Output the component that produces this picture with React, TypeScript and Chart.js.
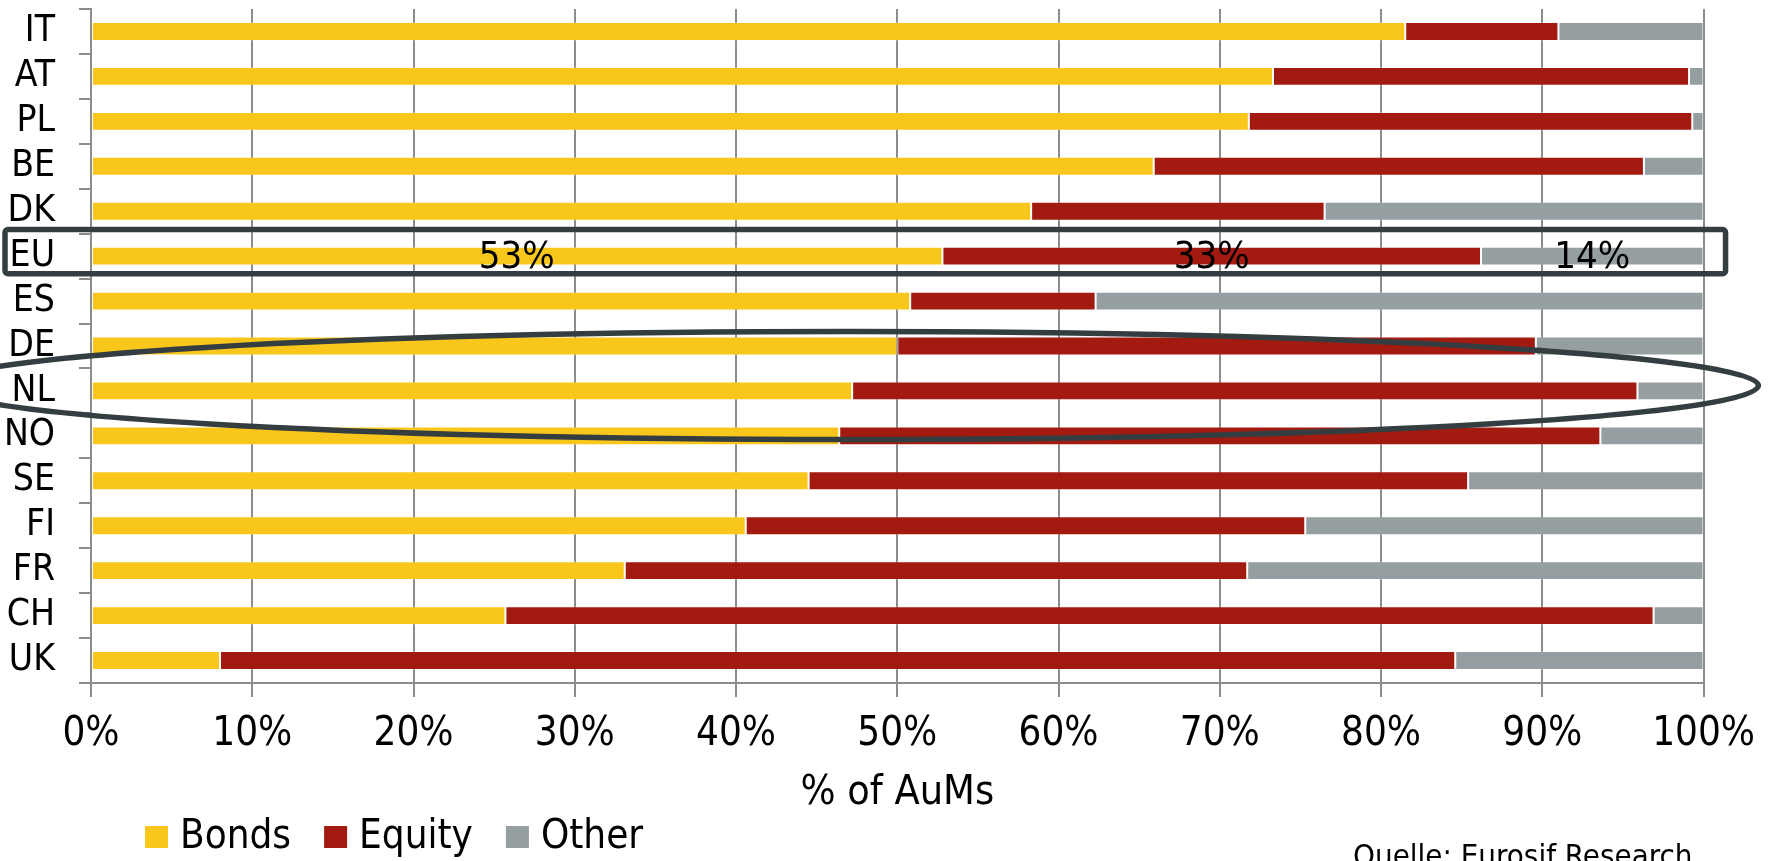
import { useEffect, useRef } from 'react';
import { Chart, registerables } from 'chart.js';

Chart.register(...registerables);

// ---------- data ----------
const categories = ['IT', 'AT', 'PL', 'BE', 'DK', 'EU', 'ES', 'DE', 'NL', 'NO', 'SE', 'FI', 'FR', 'CH', 'UK'];
const bonds = [81.5, 73.3, 71.8, 65.9, 58.3, 52.8, 50.8, 50.0, 47.2, 46.4, 44.5, 40.6, 33.1, 25.7, 8.0];
const equity = [9.5, 25.8, 27.5, 30.4, 18.2, 33.4, 11.5, 39.6, 48.7, 47.2, 40.9, 34.7, 38.6, 71.2, 76.6];
const other = [9.0, 0.9, 0.7, 3.7, 23.5, 13.8, 37.7, 10.4, 4.1, 6.4, 14.6, 24.7, 28.3, 3.1, 15.4];
const seriesNames = ['Bonds', 'Equity', 'Other'];
const seriesColors = ['#F9C71C', '#A21A10', '#959EA1'];
const xTickValues = [0, 10, 20, 30, 40, 50, 60, 70, 80, 90, 100];
const xTitle = '% of AuMs';
const sourceNote = 'Quelle: Eurosif Research';
const boxedCategory = 'EU';
const ringCategory = 'NL';
const ringCenterValue = 47;
const ringRightValue = 103.4;

// ---------- styles ----------
const NARROW = "'Liberation Sans Narrow', 'DejaVu Sans Condensed', sans-serif";
const COND = "'DejaVu Sans Condensed', 'Liberation Sans Narrow', sans-serif";
const INK = '#343E40';
const GRID = '#8C8C8C';

const overlayPlugin = {
  id: 'overlay',
  afterDatasetsDraw(chart: any) {
    const { ctx, chartArea } = chart;
    const x = chart.scales.x;
    const y = chart.scales.y;
    const step = y.getPixelForValue(1) - y.getPixelForValue(0);

    ctx.save();
    // segment labels on the highlighted row
    const iBox = categories.indexOf(boxedCategory);
    const cyBox = y.getPixelForValue(iBox);
    ctx.font = `38px ${NARROW}`;
    ctx.fillStyle = '#000';
    ctx.textAlign = 'center';
    ctx.textBaseline = 'middle';
    let acc = 0;
    [bonds, equity, other].forEach((arr) => {
      const v = arr[iBox];
      ctx.fillText(Math.round(v) + '%', x.getPixelForValue(acc + v / 2), cyBox + 2);
      acc += v;
    });

    // box around highlighted row
    ctx.strokeStyle = INK;
    ctx.lineWidth = 5.5;
    const top = cyBox - step * 0.59;
    const bottom = cyBox + step * 0.39;
    const left = 5;
    const right = chartArea.right + 22;
    ctx.beginPath();
    if (ctx.roundRect) ctx.roundRect(left, top, right - left, bottom - top, 3);
    else ctx.rect(left, top, right - left, bottom - top);
    ctx.stroke();

    // ellipse around DE / NL / NO
    const iRing = categories.indexOf(ringCategory);
    const ecx = x.getPixelForValue(ringCenterValue);
    const erx = x.getPixelForValue(ringRightValue) - ecx;
    const ecy = y.getPixelForValue(iRing) - step * 0.12;
    const ery = step * 1.2;
    ctx.beginPath();
    ctx.ellipse(ecx, ecy, erx, ery, 0, 0, Math.PI * 2);
    ctx.stroke();
    ctx.restore();
  },
  afterDraw(chart: any) {
    const { ctx, chartArea } = chart;
    ctx.save();
    // legend
    ctx.font = `40px ${COND}`;
    ctx.textBaseline = 'middle';
    ctx.textAlign = 'left';
    let lx = chartArea.left + 54;
    const ly = 837;
    chart.data.datasets.forEach((ds: any, i: number) => {
      ctx.fillStyle = seriesColors[i];
      ctx.fillRect(lx, ly - 11, 23, 22);
      ctx.fillStyle = '#000';
      ctx.fillText(ds.label, lx + 35, ly + 1);
      lx += 35 + ctx.measureText(ds.label).width + 33;
    });
    // source note
    ctx.font = `31px ${COND}`;
    ctx.textBaseline = 'alphabetic';
    ctx.fillText(sourceNote, 1353, 866);
    ctx.restore();
  },
};

export default function App() {
  const ref = useRef<HTMLCanvasElement | null>(null);

  useEffect(() => {
    document.body.style.margin = '0';
    if (!ref.current) return;
    const data = [bonds, equity, other];
    const chart = new Chart(ref.current, {
      type: 'bar',
      data: {
        labels: categories,
        datasets: seriesNames.map((name, i) => ({
          label: name,
          data: data[i],
          backgroundColor: seriesColors[i],
          borderColor: 'rgba(255,255,255,0.22)',
          borderWidth: 1,
          borderSkipped: false,
          barPercentage: 0.42,
          categoryPercentage: 1,
        })),
      },
      options: {
        indexAxis: 'y',
        animation: false,
        responsive: true,
        maintainAspectRatio: false,
        layout: { padding: { left: 0, top: 9, right: 62, bottom: 43 } },
        plugins: { legend: { display: false }, tooltip: { enabled: false } },
        scales: {
          x: {
            stacked: true,
            min: 0,
            max: 100,
            afterBuildTicks: (s: any) => {
              s.ticks = xTickValues.map((v) => ({ value: v }));
            },
            afterFit: (s: any) => {
              s.height = 135;
            },
            grid: { color: GRID, lineWidth: 2, tickLength: 14, drawTicks: true },
            border: { color: GRID, width: 2 },
            ticks: {
              color: '#000',
              padding: 14,
              maxRotation: 0,
              autoSkip: false,
              font: { family: NARROW, size: 40 },
              callback: (v: any) => v + '%',
            },
            title: {
              display: true,
              text: xTitle,
              color: '#000',
              padding: { top: 0, bottom: 0 },
              font: { family: NARROW, size: 41 },
            },
          },
          y: {
            stacked: true,
            afterFit: (s: any) => {
              s.width = 91;
              s.paddingTop = 0;
              s.paddingBottom = 0;
            },
            grid: { drawOnChartArea: false, drawTicks: true, tickLength: 12, color: GRID, lineWidth: 2, offset: true },
            border: { color: GRID, width: 2 },
            ticks: {
              color: '#000',
              padding: 24,
              autoSkip: false,
              font: { family: NARROW, size: 37 },
            },
          },
        },
      },
      plugins: [overlayPlugin],
    } as any);
    return () => chart.destroy();
  }, []);

  return (
    <div style={{ width: 1769, height: 861, position: 'relative' }}>
      <canvas ref={ref} />
    </div>
  );
}
